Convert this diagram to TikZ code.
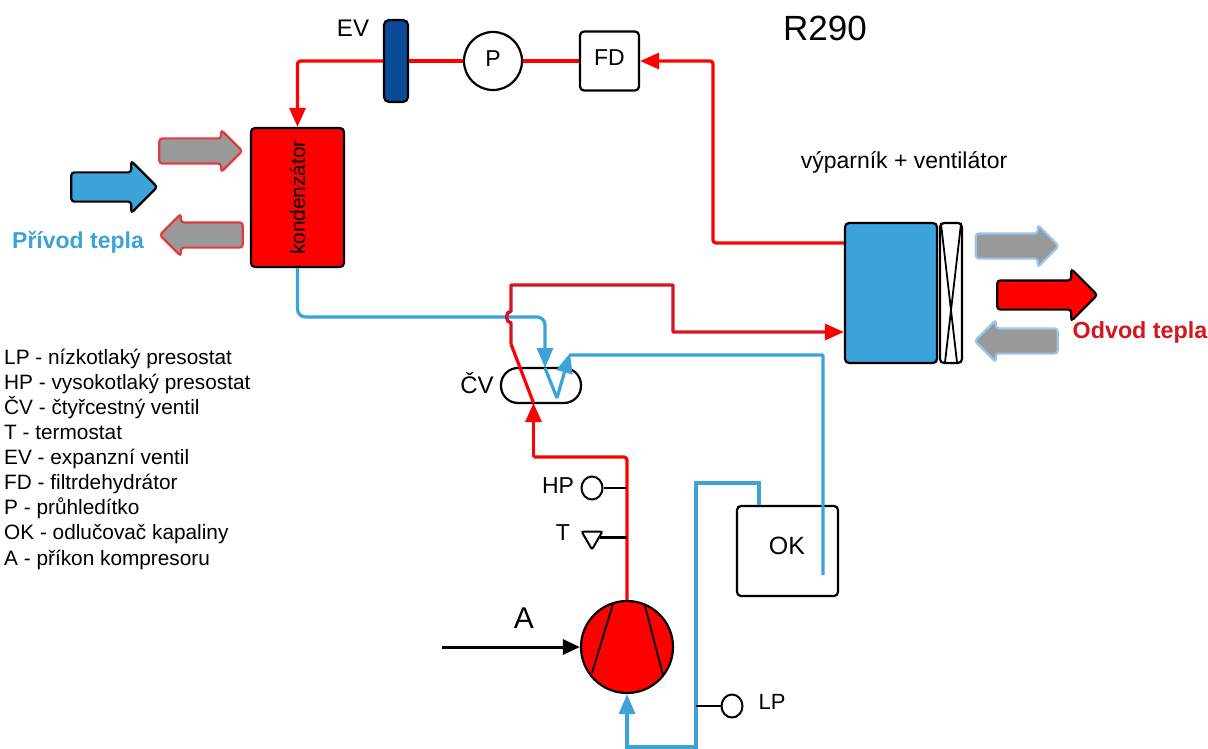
\documentclass[tikz,border=0pt]{standalone}
\usepackage{fontspec}
\setmainfont{Liberation Sans}
\usetikzlibrary{arrows.meta,shapes.arrows,shapes.geometric,calc}
\definecolor{hotred}{HTML}{FF0000}
\definecolor{darkred}{HTML}{D5141E}
\definecolor{coldblue}{HTML}{3CA2DA}
\definecolor{valveblue}{HTML}{0B4A96}
\definecolor{arrowgrey}{HTML}{999999}
\definecolor{paleblue}{HTML}{9CC6E8}
\definecolor{palered}{HTML}{E23B3F}
\tikzset{
  unit/.style={draw=black,line width=2.2pt,rounded corners=4pt,inner sep=0pt},
  sensor/.style={draw=black,line width=2pt,ellipse,inner sep=0pt,minimum width=21,minimum height=23},
  stub/.style={draw=black,line width=2.5pt},
  redtip/.style={-{Triangle[length=19pt,width=16pt,color=hotred]}},
  bluetip/.style={-{Triangle[length=20pt,width=16pt,color=coldblue]}},
  hotline/.style={draw=hotred,line width=3.2pt,rounded corners=3pt},
  darkline/.style={draw=darkred,line width=3.4pt,line join=round},
  coldline/.style={draw=coldblue,line width=3.2pt},
  blockarrow/.style={single arrow,inner xsep=0pt,single arrow head indent=0pt,rounded corners=3pt,line width=2.2pt},
  greyarrow/.style={blockarrow,fill=arrowgrey,minimum height=83,inner ysep=11.5pt,single arrow head extend=8.5pt},
  mainarrow/.style={blockarrow,draw=black,inner ysep=13.5pt,single arrow head extend=11.5pt},
  legend/.style={anchor=base west,inner sep=0pt,font=\fontsize{20.8}{22}\selectfont},
  label/.style={inner sep=0pt,font=\fontsize{23}{26}\selectfont},
}
\begin{document}
\begin{tikzpicture}[x=1pt,y=1pt]
        \useasboundingbox (0,0) rectangle (1208,-749);
        % machines
        \node [unit,fill=hotred,minimum width=93,minimum height=139] (kond) at (297.5,-197.5) {};
        \node [rotate=90,inner sep=0pt,font=\fontsize{20.8}{23}\selectfont] (kondtext) at (kond.center) {kondenzátor};
        \node [unit,fill=valveblue,minimum width=24,minimum height=82,rounded corners=5pt] (ev) at (396,-61) {};
        \node [draw=black,line width=2.2pt,circle,inner sep=0pt,minimum size=58] (pr) at (493,-61) {};
        \node [label] (prtext) at (493,-59) {P};
        \node [unit,minimum width=59,minimum height=59] (fd) at (609.5,-61) {};
        \node [label] (fdtext) at (609.5,-58) {FD};
        \node [unit,fill=coldblue,minimum width=92,minimum height=140] (evap) at (891,-293) {};
        \node [unit,minimum width=22,minimum height=140] (fan) at (951,-293) {};
        \draw [line width=1.8pt] ($(fan.north west)+(2,-1)$) -- ($(fan.south east)+(-6,1)$);
        \draw [line width=1.8pt] ($(fan.north east)+(-2,-1)$) -- ($(fan.south west)+(6,1)$);
        \node [unit,minimum width=80,minimum height=35,rounded corners=17pt] (cv) at (541,-385.5) {};
        \node [unit,minimum width=101,minimum height=90] (ok) at (787.5,-551) {};
        \node [label,font=\fontsize{25}{28}\selectfont] (oktext) at (787,-546) {OK};
        \node [draw=black,line width=2.2pt,circle,fill=hotred,inner sep=0pt,minimum size=92] (comp) at (627,-647) {};
        \draw [line width=1.9pt] (613,-604) -- (592,-673);
        \draw [line width=1.9pt] (645,-606) -- (663,-675);
        \node [sensor] (hp) at (592,-488) {};
        \node [draw=black,line width=2pt,regular polygon,regular polygon sides=3,shape border rotate=180,rounded corners=2pt,inner sep=0pt,minimum size=24] (tm) at (592,-537.5) {};
        \node [sensor] (lp) at (732,-706) {};
        % heat arrows
        \node [greyarrow,draw=palered] (kondin) at (194.5,-151) {};
        \node [greyarrow,draw=palered,shape border rotate=180] (kondout) at (207.5,-235) {};
        \node [mainarrow,fill=coldblue,minimum height=86] (heatin) at (107,-187) {};
        \node [greyarrow,draw=paleblue] (fanout) at (1011,-246) {};
        \node [mainarrow,fill=hotred,minimum height=100] (heatout) at (1040,-295) {};
        \node [greyarrow,draw=paleblue,shape border rotate=180] (fanin) at (1022.5,-341) {};
        % refrigerant, liquid side
        \coordinate (evout) at (713,-243);
        \coordinate (fdin) at (713,-61);
        \coordinate (kondin1) at (297.5,-61);
        \draw [hotline,redtip] (evap.west |- evout) -- (evout) -- (fdin) -- (fd.east);
        \draw [hotline] (fd.west) -- (pr.east);
        \draw [hotline] (pr.west) -- (ev.east);
        \draw [hotline,redtip] (ev.west) -- (kondin1) -- (kond.north);
        % refrigerant, compressor side
        \coordinate (hot1) at (627,-457);
        \coordinate (hot2) at (533.5,-457);
        \coordinate (hot3) at (533.5,-403);
        \coordinate (hot4) at (511,-344);
        \coordinate (hot5) at (511,-323);
        \coordinate (hot6) at (511,-311);
        \coordinate (hot7) at (511,-285);
        \coordinate (hot8) at (673,-285);
        \coordinate (hot9) at (673,-332);
        \coordinate (cold0) at (545,-368);
        \coordinate (coldturn) at (545,-317);
        \coordinate (cold1) at (557,-398);
        \coordinate (cold2) at (570,-353);
        \coordinate (cold3) at (823,-355);
        \coordinate (cold4) at (823,-575);
        \draw [coldline,rounded corners=8pt,bluetip] (kond.south) |- (coldturn) -- (cold0);
        \draw [hotline,line join=round] (comp.north) -- (hot1) -- (hot2);
        \draw [hotline,redtip,rounded corners=0pt] (hot2) -- (hot3);
        \draw [hotline,rounded corners=0pt] (hot3) -- (hot4);
        \draw [darkline,redtip] (hot4) -- (hot5)
              .. controls (505,-322) and (505,-312) .. (hot6) -- (hot7) -- (hot8) -- (hot9) -- (hot9 -| evap.west);
        % refrigerant, suction side
        \draw [coldline] (cold0) -- (cold1);
        \draw [coldline,bluetip] (cold1) -- (cold2);
        \draw [coldline,rounded corners=1pt] (cold2 |- cold3) -- (cold3) -- (cold4);
        \coordinate (okup1) at (759,-483);
        \coordinate (okup2) at (696,-483);
        \coordinate (okup3) at (696,-747);
        \coordinate (okup4) at (627,-747);
        \draw [coldline,line join=miter,bluetip]
              (okup1 |- ok.north) -- (okup1) -- (okup2) -- (okup3) -- (okup4) -- (comp.south);
        % sensors and power input
        \draw [stub] (hp.east) -- (hp.east -| comp.north);
        \draw [stub] (tm.east) -- (tm.east -| comp.north);
        \draw [stub] (lp.west) -- (lp.west -| okup2);
        \coordinate (power) at (442,-647);
        \draw [line width=3pt,-{Triangle[length=17pt,width=15pt]}] (power) -- (comp.west);
        % labels
        \node [inner sep=0pt,font=\fontsize{35}{38}\selectfont] (title) at (825,-28) {R290};
        \node [label,font=\fontsize{24}{26}\selectfont] (evtext) at (353,-28) {EV};
        \node [label] (vyptext) at (904,-162) {výparník + ventilátor};
        \node [inner sep=0pt,text=coldblue,font=\bfseries\fontsize{23}{26}\selectfont] (privod) at (78,-242) {Přívod tepla};
        \node [inner sep=0pt,text=darkred,font=\bfseries\fontsize{23.3}{26}\selectfont] (odvod) at (1140,-332) {Odvod tepla};
        \node [label,font=\fontsize{24}{26}\selectfont] (cvtext) at (477,-383) {ČV};
        \node [label] (hptext) at (558,-486) {HP};
        \node [label] (tmtext) at (563,-533) {T};
        \node [label,font=\fontsize{22}{24}\selectfont] (lptext) at (772,-702) {LP};
        \node [inner sep=0pt,font=\fontsize{30}{32}\selectfont] (atext) at (524,-618) {A};
        % legend
        \node [legend] (leg1) at (4,-364) {LP - nízkotlaký presostat};
        \node [legend] (leg2) at (4,-389) {HP - vysokotlaký presostat};
        \node [legend] (leg3) at (4,-414) {ČV - čtyřcestný ventil};
        \node [legend] (leg4) at (4,-439) {T - termostat};
        \node [legend] (leg5) at (4,-464) {EV - expanzní ventil};
        \node [legend] (leg6) at (4,-489) {FD - filtrdehydrátor};
        \node [legend] (leg7) at (4,-514) {P - průhledítko};
        \node [legend] (leg8) at (4,-539) {OK - odlučovač kapaliny};
        \node [legend] (leg9) at (4,-565) {A - příkon kompresoru};
\end{tikzpicture}
\end{document}
